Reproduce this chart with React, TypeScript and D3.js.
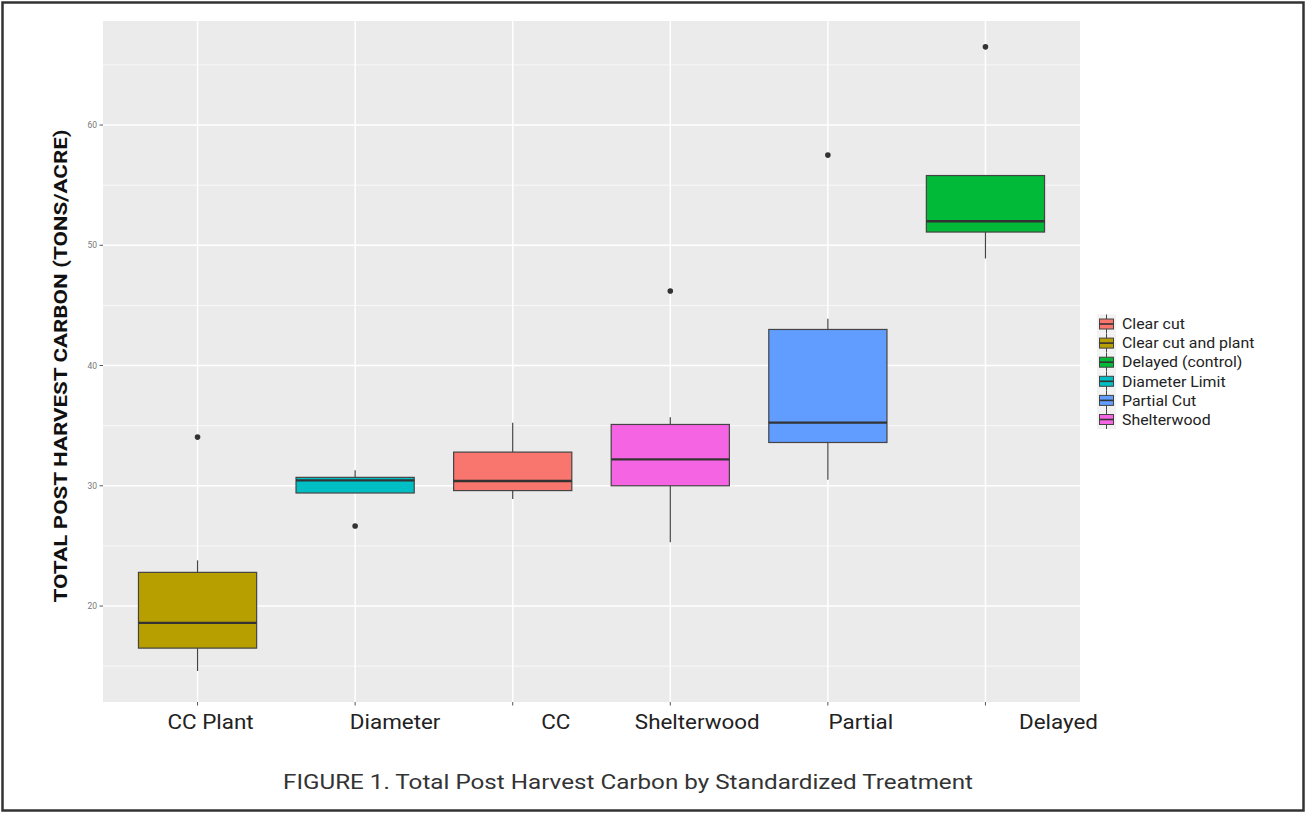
import React from "react";
import * as d3 from "d3";

// ---- data ----
const categories = ["CC Plant", "Diameter", "CC", "Shelterwood", "Partial", "Delayed"];
const treatments = ["Clear cut and plant", "Diameter Limit", "Clear cut", "Shelterwood", "Partial Cut", "Delayed (control)"];
const lowerWhisker = [14.6, 29.4, 28.9, 25.3, 30.5, 48.9];
const q1 = [16.5, 29.4, 29.6, 30.0, 33.6, 51.1];
const medians = [18.6, 30.45, 30.4, 32.2, 35.25, 52.0];
const q3 = [22.8, 30.7, 32.8, 35.1, 43.0, 55.8];
const upperWhisker = [23.8, 31.3, 35.25, 35.7, 43.9, 55.8];
const outliers = [[34.05], [26.65], [], [46.2], [57.5], [66.5]];
const yTicks = [20, 30, 40, 50, 60];
const yMinor = [15, 25, 35, 45, 55, 65];
const legendLabels = ["Clear cut", "Clear cut and plant", "Delayed (control)", "Diameter Limit", "Partial Cut", "Shelterwood"];
const legendColors = ["#F8766D", "#B79F00", "#00BA38", "#00BFC4", "#619CFF", "#F564E3"];
// horizontal shift of the x labels relative to the tick (as in the reference)
const labelShift = [13, 40, 43, 27, 33, 73];

export default function App() {
  const W = 1307, H = 815;
  const left = 103, right = 1080, top = 21, bottom = 702;
  const x = d3.scalePoint<string>().domain(categories).range([left, right]).padding(0.6);
  const y = d3.scaleLinear().domain([12.02, 68.65]).range([bottom, top]);
  const step = x.step();
  const bw = step * 0.75;
  const colorOf = d3.scaleOrdinal<string, string>().domain(legendLabels).range(legendColors);

  return (
    <svg width={W} height={H} style={{ position: "absolute", left: 0, top: 0, display: "block", background: "#fff" }}>
      <rect x={0} y={0} width={W} height={H} fill="#fff" />
      <rect x={2.5} y={2.5} width={1301} height={808} fill="none" stroke="#333" strokeWidth={2.5} />
      {/* panel */}
      <rect x={left} y={top} width={right - left} height={bottom - top} fill="#EBEBEB" />
      {yMinor.map((v) => (
        <line key={"mn" + v} x1={left} x2={right} y1={y(v)} y2={y(v)} stroke="#fff" strokeWidth={0.7} />
      ))}
      {yTicks.map((v) => (
        <line key={"mj" + v} x1={left} x2={right} y1={y(v)} y2={y(v)} stroke="#fff" strokeWidth={1.5} />
      ))}
      {categories.map((c) => (
        <line key={"vg" + c} x1={x(c)} x2={x(c)} y1={top} y2={bottom} stroke="#fff" strokeWidth={1.5} />
      ))}
      {/* boxes */}
      {categories.map((c, i) => {
        const cx = x(c)!;
        const fill = colorOf(treatments[i]);
        return (
          <g key={"b" + c}>
            <line x1={cx} x2={cx} y1={y(upperWhisker[i])} y2={y(q3[i])} stroke="#444" strokeWidth={1.2} />
            <line x1={cx} x2={cx} y1={y(q1[i])} y2={y(lowerWhisker[i])} stroke="#444" strokeWidth={1.2} />
            <rect x={cx - bw / 2} y={y(q3[i])} width={bw} height={y(q1[i]) - y(q3[i])} fill={fill} stroke="#444" strokeWidth={1.2} />
            <line x1={cx - bw / 2} x2={cx + bw / 2} y1={y(medians[i])} y2={y(medians[i])} stroke="#333" strokeWidth={2.4} />
            {outliers[i].map((o, j) => (
              <circle key={j} cx={cx} cy={y(o)} r={2.8} fill="#333" />
            ))}
          </g>
        );
      })}
      {/* y axis */}
      {yTicks.map((v) => (
        <g key={"yt" + v}>
          <line x1={left - 3.5} x2={left} y1={y(v)} y2={y(v)} stroke="#555" strokeWidth={1} />
          <text x={left - 6} y={y(v)} dy="0.35em" textAnchor="end" fontSize={8.5} fill="#777" fontFamily="Roboto, sans-serif">{v}</text>
        </g>
      ))}
      {/* x axis */}
      {categories.map((c, i) => (
        <g key={"xt" + c}>
          <line x1={x(c)} x2={x(c)} y1={bottom} y2={bottom + 3.5} stroke="#555" strokeWidth={1} />
          <g transform={`translate(${x(c)! + labelShift[i]},729) scale(1.12,1)`}>
            <text x={0} y={0} textAnchor="middle" fontSize={20} fill="#222" fontFamily="Roboto, sans-serif">{c}</text>
          </g>
        </g>
      ))}
      {/* y title */}
      <text transform={`translate(67,366) rotate(-90)`} textAnchor="middle" fontSize={19} fontWeight="bold" fill="#111"
        fontFamily="Roboto, sans-serif" textLength={473} lengthAdjust="spacingAndGlyphs">TOTAL POST HARVEST CARBON (TONS/ACRE)</text>
      {/* legend */}
      {legendLabels.map((l, i) => {
        const cy = 324 + i * 19.1;
        return (
          <g key={"lg" + l}>
            <rect x={1097} y={cy - 9.5} width={19} height={19} fill="#F2F2F2" />
            <line x1={1106.5} x2={1106.5} y1={cy - 9.5} y2={cy + 9.5} stroke="#444" strokeWidth={1} />
            <rect x={1099.5} y={cy - 5} width={14} height={10} fill={legendColors[i]} stroke="#444" strokeWidth={1} />
            <line x1={1099.5} x2={1113.5} y1={cy} y2={cy} stroke="#333" strokeWidth={1.6} />
            <g transform={`translate(1122,${cy}) scale(1.06,1)`}>
              <text x={0} y={0} dy="0.35em" fontSize={15} fill="#222" fontFamily="Roboto, sans-serif">{l}</text>
            </g>
          </g>
        );
      })}
      {/* caption */}
      <text x={628} y={789} textAnchor="middle" fontSize={21} fill="#333" fontFamily="Roboto, sans-serif"
        textLength={690} lengthAdjust="spacingAndGlyphs">
        FIGURE 1. Total Post Harvest Carbon by Standardized Treatment
      </text>
    </svg>
  );
}
